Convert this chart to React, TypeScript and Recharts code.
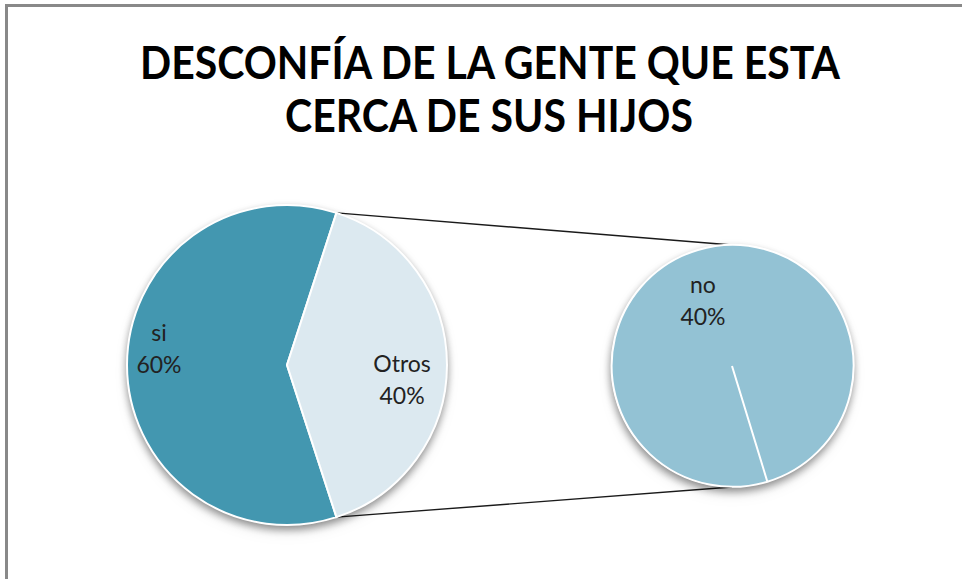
import React from "react";
import { PieChart, Pie, Cell } from "recharts";

const W = 962;
const H = 579;

const TITLE_LINES = ["DESCONFÍA DE LA GENTE QUE ESTA", "CERCA DE SUS HIJOS"];

const mainNames = ["si", "Otros"];
const mainValues = [60, 40];
const mainColors = ["#4397B0", "#DCE9F0"];

const secondNames = ["no"];
const secondValues = [40];
const secondColors = ["#93C2D4"];

const mainData = mainNames.map((name, i) => ({ name, value: mainValues[i] }));
const secondData = secondNames.map((name, i) => ({ name, value: secondValues[i] }));

// geometry (layout, not data)
const MAIN = { cx: 287, cy: 365, r: 160 };
const SECOND = { cx: 732, cy: 366, r: 121 };

// label offsets relative to the pie centre, as fractions of the radius
const LABEL_OFFSET: Record<string, [number, number]> = {
  si: [-0.8, -0.103],
  Otros: [0.719, 0.094],
  no: [-0.24, -0.54],
};

const FONT = "Lato, 'Open Sans', 'DejaVu Sans', sans-serif";

const renderLabel = (props: any) => {
  const { cx, cy, outerRadius, name, value } = props;
  const off = LABEL_OFFSET[name] || [0, 0];
  const x = cx + off[0] * outerRadius;
  const y = cy + off[1] * outerRadius;
  return (
    <text
      key={name}
      x={x}
      y={y}
      textAnchor="middle"
      fill="#222"
      fontFamily={FONT}
      fontSize={23}
    >
      <tspan x={x} y={y - 8}>{name}</tspan>
      <tspan x={x} y={y + 24}>{`${value}%`}</tspan>
    </text>
  );
};

// angles: the "Otros" share is centred on the 3 o'clock direction
const otrosShare = mainValues[1] / mainValues.reduce((a, b) => a + b, 0);
const halfAngle = otrosShare * 180;
const startMain = halfAngle;
const endMain = halfAngle + 360;

const rad = (d: number) => (d * Math.PI) / 180;
const topPt = {
  x: MAIN.cx + MAIN.r * Math.cos(rad(halfAngle)),
  y: MAIN.cy - MAIN.r * Math.sin(rad(halfAngle)),
};
const botPt = {
  x: MAIN.cx + MAIN.r * Math.cos(rad(-halfAngle)),
  y: MAIN.cy - MAIN.r * Math.sin(rad(-halfAngle)),
};

export default function App() {
  const total = mainValues.reduce((a, b) => a + b, 0);
  return (
    <div
      style={{
        position: "absolute",
        left: 0,
        top: 0,
        width: W,
        height: H,
        background: "#fff",
        overflow: "hidden",
      }}
    >
      <style>{`.shadow-pie { filter: drop-shadow(0px 4px 4px rgba(0,0,0,0.28)); }`}</style>
      <svg
        width={W}
        height={H}
        style={{ position: "absolute", left: 0, top: 0 }}
      >
        <line x1={6.5} y1={4} x2={6.5} y2={H} stroke="#898989" strokeWidth={3} />
        <line x1={5} y1={5.5} x2={W} y2={5.5} stroke="#898989" strokeWidth={3} />
        <text
          x={490}
          y={79}
          textAnchor="middle"
          fontFamily={FONT}
          fontWeight={700}
          fontSize={45}
          fill="#000"
          textLength={700}
          lengthAdjust="spacingAndGlyphs"
        >
          {TITLE_LINES[0]}
        </text>
        <text
          x={489}
          y={132}
          textAnchor="middle"
          fontFamily={FONT}
          fontWeight={700}
          fontSize={45}
          fill="#000"
          textLength={408}
          lengthAdjust="spacingAndGlyphs"
        >
          {TITLE_LINES[1]}
        </text>
        <line
          x1={topPt.x}
          y1={topPt.y}
          x2={SECOND.cx}
          y2={SECOND.cy - SECOND.r}
          stroke="#1a1a1a"
          strokeWidth={1.4}
        />
        <line
          x1={botPt.x}
          y1={botPt.y}
          x2={SECOND.cx}
          y2={SECOND.cy + SECOND.r}
          stroke="#1a1a1a"
          strokeWidth={1.4}
        />
      </svg>
      <div style={{ position: "absolute", left: 0, top: 0 }}>
        <PieChart width={W} height={H} margin={{ top: 0, right: 0, bottom: 0, left: 0 }}>
          <Pie
            data={[{ name: "shadow", value: total }]}
            dataKey="value"
            cx={MAIN.cx}
            cy={MAIN.cy}
            outerRadius={MAIN.r}
            fill="#ffffff"
            stroke="none"
            className="shadow-pie"
            legendType="none"
            isAnimationActive={false}
          />
          <Pie
            data={[{ name: "shadow2", value: total }]}
            dataKey="value"
            cx={SECOND.cx}
            cy={SECOND.cy}
            outerRadius={SECOND.r}
            fill="#ffffff"
            stroke="none"
            className="shadow-pie"
            legendType="none"
            isAnimationActive={false}
          />
          <Pie
            data={mainData}
            dataKey="value"
            nameKey="name"
            cx={MAIN.cx}
            cy={MAIN.cy}
            outerRadius={MAIN.r}
            startAngle={startMain}
            endAngle={endMain}
            stroke="#ffffff"
            strokeWidth={2}
            label={renderLabel}
            labelLine={false}
            isAnimationActive={false}
          >
            {mainData.map((d, i) => (
              <Cell key={d.name} fill={mainColors[i]} />
            ))}
          </Pie>
          <Pie
            data={secondData}
            dataKey="value"
            nameKey="name"
            cx={SECOND.cx}
            cy={SECOND.cy}
            outerRadius={SECOND.r}
            startAngle={-73}
            endAngle={287}
            stroke="#ffffff"
            strokeWidth={2}
            label={renderLabel}
            labelLine={false}
            isAnimationActive={false}
          >
            {secondData.map((d, i) => (
              <Cell key={d.name} fill={secondColors[i]} />
            ))}
          </Pie>
        </PieChart>
      </div>
    </div>
  );
}
